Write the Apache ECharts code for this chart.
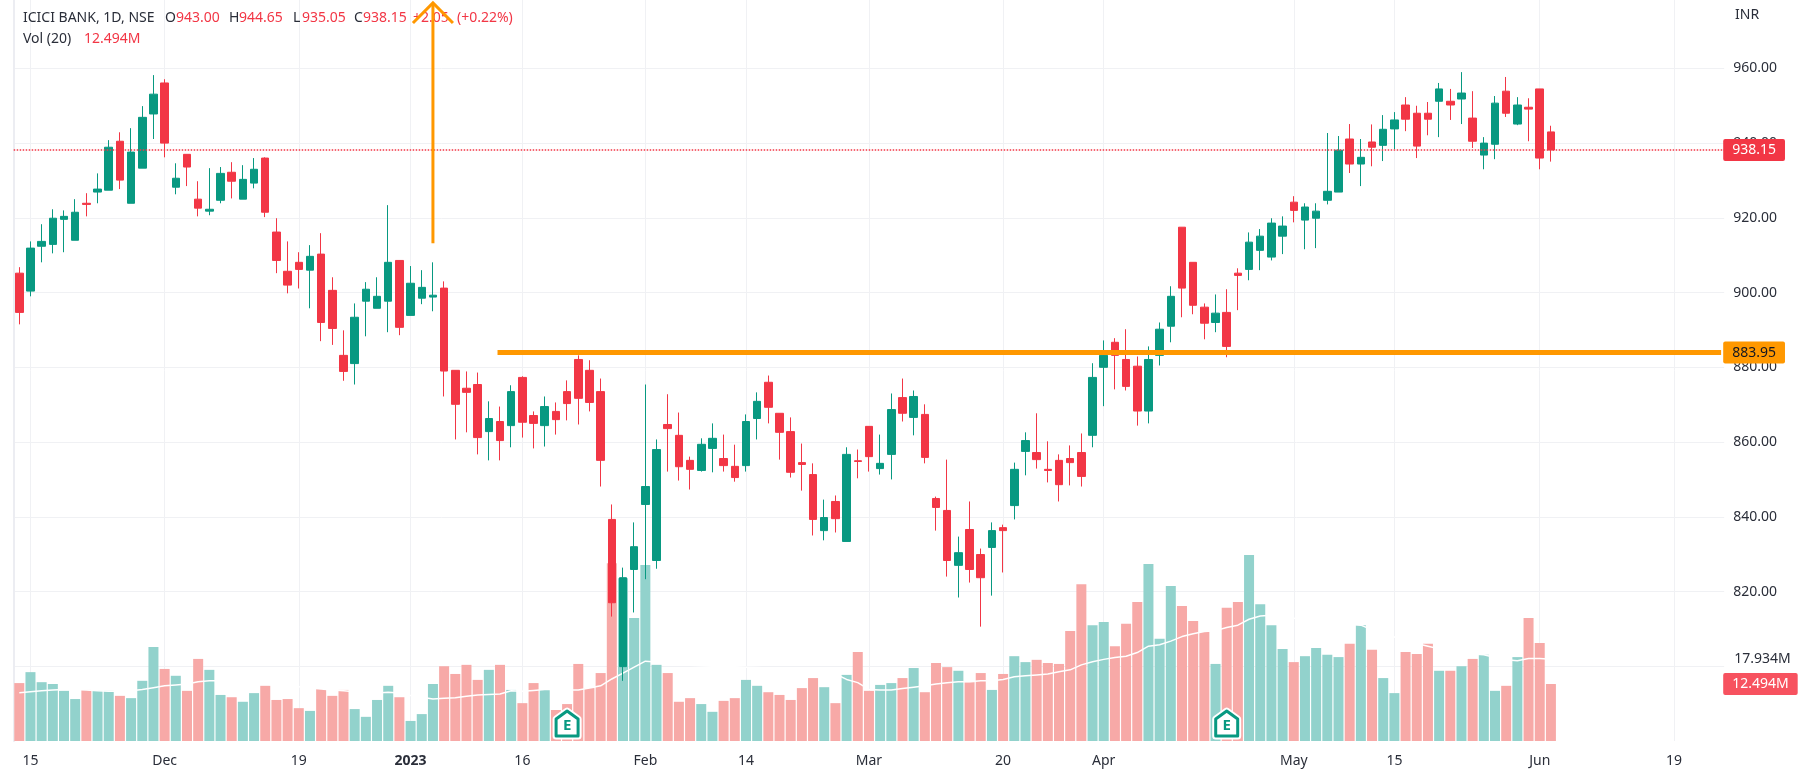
<!DOCTYPE html>
<html>
<head>
<meta charset="utf-8">
<title>ICICI BANK</title>
<script src="https://cdn.jsdelivr.net/npm/echarts@6/dist/echarts.min.js"></script>
<style>
  html, body { margin: 0; padding: 0; background: #fff; }
  #main { width: 1808px; height: 779px; }
</style>
</head>
<body>
<div id="main"></div>
<script>
// daily candles
var opens = [905.2,900.4,912.4,912.9,919.6,914.0,923.9,926.9,927.4,940.5,923.9,933.3,947.8,956.1,928.2,937.0,925.0,921.8,924.7,932.2,925.0,929.3,936.0,916.2,905.7,908.1,906.0,910.3,900.6,883.2,881.0,897.7,895.8,897.7,908.6,893.9,898.5,898.8,901.2,879.2,874.4,875.4,862.8,865.5,864.4,877.3,867.1,864.4,868.2,873.5,882.1,879.2,873.5,839.3,799.9,825.9,843.3,828.3,864.7,861.8,855.1,852.4,858.3,855.6,853.5,853.7,866.3,876.0,867.7,862.8,854.5,851.3,836.3,844.1,833.4,855.0,864.2,852.9,856.7,871.9,866.6,867.4,844.9,841.7,827.0,836.6,829.9,831.8,837.1,843.0,857.5,857.2,852.7,855.1,855.6,857.2,861.8,880.0,886.7,882.1,880.3,868.3,883.2,891.0,917.5,908.1,896.1,892.0,894.7,905.2,906.2,911.3,909.5,915.1,924.2,919.4,919.9,924.7,926.9,941.1,934.4,940.3,939.4,943.8,950.2,948.0,948.0,951.2,951.2,951.8,946.7,936.8,939.7,953.9,945.1,949.6,954.5,943.0];
var highs = [906.8,913.7,918.3,922.3,922.0,925.0,926.6,931.9,940.8,942.9,944.0,949.9,958.2,957.1,934.6,937.0,929.8,933.3,933.6,934.9,934.1,936.0,936.2,919.9,913.7,910.8,912.7,915.9,904.1,889.9,897.1,902.8,904.1,923.4,908.6,907.1,906.0,908.1,903.0,879.2,878.9,878.6,870.9,869.5,875.2,877.6,868.2,872.2,870.6,876.5,883.2,881.9,877.0,843.3,826.4,838.5,875.4,860.7,872.8,867.9,856.1,861.0,865.0,862.0,859.3,867.4,873.3,877.8,867.7,866.6,859.6,854.3,844.6,845.7,858.6,858.0,864.2,862.0,873.0,877.0,873.8,870.1,845.4,855.3,834.7,844.1,831.5,838.5,837.9,854.5,862.6,867.7,860.2,856.7,859.1,862.3,881.1,887.2,887.8,890.2,882.9,885.6,892.0,901.7,917.5,908.1,897.1,899.5,900.9,906.5,916.1,917.0,919.9,920.4,925.8,923.9,923.9,942.7,941.9,945.1,941.1,945.0,947.5,948.3,952.3,950.0,951.0,956.1,954.5,959.0,953.9,941.6,952.6,957.7,952.3,952.0,954.5,944.65];
var lows = [891.5,899.0,908.1,910.5,910.8,914.0,920.4,923.9,927.4,927.7,923.9,933.3,941.1,936.2,926.3,928.5,920.4,920.7,923.9,925.2,925.0,927.9,920.2,905.2,899.8,901.1,895.8,887.0,886.0,876.4,875.4,888.3,895.8,889.4,888.6,893.9,896.9,895.0,872.2,860.7,862.6,856.7,855.1,855.1,858.6,861.2,858.3,858.8,862.0,865.8,864.7,868.2,848.1,813.3,796.1,814.4,823.3,826.1,852.1,849.7,847.3,852.1,851.9,852.1,849.4,852.1,860.7,865.0,855.3,850.5,847.0,835.0,833.7,835.8,833.4,850.3,852.1,851.3,850.0,865.5,861.8,854.3,836.3,824.0,818.4,822.4,810.6,818.9,825.1,839.3,851.1,852.9,849.2,844.1,848.4,848.1,858.6,869.6,874.1,873.8,864.4,865.0,880.5,886.7,893.4,894.2,887.5,889.4,882.7,895.3,903.3,906.0,908.6,910.3,918.8,911.6,911.9,923.6,926.9,932.0,928.5,933.8,935.2,938.4,943.2,936.0,942.1,941.6,946.2,945.1,938.7,933.0,935.7,947.0,944.8,940.5,933.0,935.05];
var closes = [894.7,911.9,913.7,919.9,920.4,921.5,923.6,927.7,938.9,930.1,937.6,946.9,953.1,940.0,930.6,933.6,922.6,922.3,931.9,929.8,930.3,933.0,921.5,908.6,902.0,906.2,909.7,892.0,890.4,878.9,893.4,900.9,899.0,908.1,890.7,902.5,901.4,899.3,879.0,870.1,873.3,861.2,866.3,860.4,873.5,865.3,865.0,869.5,866.0,870.3,871.7,870.6,855.1,817.0,823.7,832.0,848.1,858.0,863.6,853.4,852.7,859.4,861.0,853.7,850.5,865.5,870.9,869.3,862.6,851.9,854.0,839.3,839.8,839.5,856.7,854.8,856.1,854.3,868.7,867.7,872.2,855.9,842.5,828.3,830.4,825.9,823.7,836.3,836.3,852.7,860.4,855.3,852.4,848.6,854.5,850.8,877.3,883.2,883.2,874.9,868.3,882.1,890.2,899.0,901.2,896.6,891.8,894.5,885.6,904.6,913.5,915.1,918.6,917.8,922.0,922.9,921.8,927.1,938.1,934.4,936.2,938.9,943.7,946.2,946.4,939.2,946.4,954.5,950.2,953.4,940.5,940.0,950.7,948.0,950.2,949.1,936.0,938.15];

// volume in millions and its 20 day average
var volumes = [12.7,15.1,12.9,12.5,11.0,9.2,11.2,11.0,11.0,9.9,9.4,13.2,20.6,15.8,14.3,11.0,18.0,15.6,10.1,9.6,8.6,10.5,12.1,9.0,9.2,7.2,6.6,11.4,9.9,11.2,7.0,5.3,9.0,12.1,9.6,4.4,5.9,12.5,16.4,14.7,16.7,13.4,15.6,16.7,11.2,8.3,12.7,11.2,6.8,8.1,16.9,11.6,14.9,39.0,35.7,27.0,38.6,16.7,14.9,8.6,9.4,8.1,6.4,8.8,9.4,13.4,12.1,10.7,10.1,9.0,11.6,13.8,11.8,8.3,14.5,19.5,11.0,12.3,12.7,13.8,16.0,10.7,17.1,16.2,15.4,12.9,14.9,11.2,14.7,18.6,17.3,17.8,17.1,16.9,24.1,34.4,25.4,26.1,20.8,25.7,30.5,38.8,22.4,34.0,29.6,26.3,23.9,16.9,29.2,30.5,40.8,30.0,25.4,20.2,17.3,18.6,20.4,18.9,18.4,21.3,25.4,20.0,13.8,10.5,19.5,19.1,21.3,15.4,15.4,16.4,18.0,18.9,11.0,12.1,18.4,27.0,21.5,12.494];
var volumeAvg = [10.6,10.8,11.0,11.2,11.3,11.3,11.2,11.0,10.9,10.9,11.0,11.3,11.7,12.1,12.3,12.5,13.0,13.2,13.2,13.1,12.9,12.7,12.5,12.3,12.1,11.9,11.6,11.4,11.2,11.0,10.8,10.6,10.5,10.7,10.5,10.0,9.6,9.2,9.4,9.5,9.8,10.1,10.2,10.3,11.0,10.9,11.1,11.3,11.3,11.2,11.2,11.6,12.1,13.6,14.9,16.2,17.5,17.3,17.0,16.7,16.6,16.5,16.4,16.4,16.3,16.2,16.1,16.0,15.9,15.8,15.6,15.4,15.0,14.7,13.5,12.8,11.3,11.2,11.2,11.5,11.8,12.1,12.5,12.8,13.0,13.0,13.2,13.2,13.5,14.1,14.3,14.5,14.7,15.2,15.6,16.7,17.4,17.9,18.3,18.6,19.4,20.8,21.1,21.9,22.9,23.5,24.0,24.2,24.9,25.4,26.7,27.4,27.6,27.2,26.9,26.6,26.3,26.0,25.8,25.6,25.4,24.4,23.6,22.8,22.0,21.4,20.8,20.2,19.8,19.4,19.1,18.9,18.3,17.8,17.6,18.1,18.1,17.934];

// bar slots on the time axis, the tail is empty space after the last session
var slotCount = 153;
var tickSlots = [1,13,25,35,45,56,65,76,88,97,114,123,136,148];
var tickLabels = ['15','Dec','19','2023','16','Feb','14','Mar','20','Apr','May','15','Jun','19'];
var earningsSlots = [49,108];

var upColor = '#089981', downColor = '#F23645', orange = '#FF9800';
var gridColor = '#f0f1f4', textColor = '#2a2e39';
var fontFamily = '"Noto Sans", sans-serif';

var categories = [];
for (var i = 0; i < slotCount; i++) categories.push('');
tickSlots.forEach(function (slot, k) { categories[slot] = tickLabels[k]; });

var candles = opens.map(function (o, k) { return [o, closes[k], lows[k], highs[k]]; });
var volumeBars = volumes.map(function (v, k) {
  return { value: v, itemStyle: { color: closes[k] >= opens[k] ? '#92d2cc' : '#f7a9a7' } };
});
var isTick = function (index) { return categories[index] !== ''; };

// legend text along the top left
var headerRows = [
  [23, 18, 'ICICI BANK, 1D, NSE', textColor], [165, 18, 'O', textColor], [176, 18, '943.00', downColor],
  [229, 18, 'H', textColor], [239, 18, '944.65', downColor], [293, 18, 'L', textColor], [302, 18, '935.05', downColor],
  [354, 18, 'C', textColor], [363, 18, '938.15', downColor], [413, 18, '+2.05', downColor], [457, 18, '(+0.22%)', downColor],
  [23, 39, 'Vol (20)', textColor], [84, 39, '12.494M', downColor],
  [1735, 15, 'INR', textColor]
];

// price tag at the right end of a level
function endTag(text, fill, ink) {
  return { show: true, position: 'end', distance: -1, formatter: text, color: ink, backgroundColor: fill,
    padding: [5, 9, 3, 9], borderRadius: 2, fontSize: 14, fontFamily: fontFamily };
}

var myChart = echarts.init(document.getElementById('main'), null, { renderer: 'canvas' });
var option = {
  animation: false,
  backgroundColor: '#fff',
  graphic: headerRows.map(function (r) {
    return { type: 'text', x: r[0], y: r[1], z: 5, silent: true,
      style: { text: r[2], fill: r[3], font: '14px ' + fontFamily, verticalAlign: 'middle' } };
  }),
  grid: { left: 13.7, top: 0, width: 1710.5, height: 741 },
  xAxis: {
    type: 'category',
    data: categories,
    boundaryGap: true,
    axisLine: { show: false },
    axisTick: { show: false },
    axisLabel: {
      interval: isTick, margin: 13, color: textColor, fontSize: 14, fontFamily: fontFamily,
      formatter: function (v) { return v === '2023' ? '{b|2023}' : v; },
      rich: { b: { fontWeight: 'bold', fontSize: 14, color: textColor, fontFamily: fontFamily } }
    },
    splitLine: { show: true, interval: isTick, alignWithLabel: true, lineStyle: { color: gridColor, width: 1 } }
  },
  yAxis: [
    {
      type: 'value', position: 'right', min: 780, max: 978.3, interval: 20,
      axisLine: { show: false }, axisTick: { show: false },
      axisLabel: {
        margin: 9, color: textColor, fontSize: 14, fontFamily: fontFamily, showMaxLabel: false, padding: [3, 0, 0, 0],
        formatter: function (v) { return v >= 820 && v <= 960 ? v.toFixed(2) : ''; }
      },
      splitLine: { show: true, showMaxLine: false, showMinLine: false, lineStyle: { color: gridColor, width: 1 } }
    },
    {
      type: 'value', position: 'left', min: 0, max: 162.5,
      axisLine: { show: true, lineStyle: { color: '#ecedf2', width: 2 } },
      axisTick: { show: false }, axisLabel: { show: false }, splitLine: { show: false }
    }
  ],
  series: [
    {
      name: 'Volume', type: 'bar', yAxisIndex: 1, data: volumeBars, barWidth: 10, z: 1,
      markLine: {
        silent: true, symbol: 'none', animation: false,
        data: [{ yAxis: 12.494, lineStyle: { color: 'transparent' }, label: endTag('12.494M', '#f7525f', '#fff') }]
      }
    },
    {
      name: 'Vol (20)', type: 'line', yAxisIndex: 1, data: volumeAvg, showSymbol: false, z: 2,
      lineStyle: { color: '#fff', width: 1.5 },
      markLine: {
        silent: true, symbol: 'none', animation: false,
        data: [{
          yAxis: 17.934, lineStyle: { color: 'transparent' },
          label: { show: true, position: 'end', distance: 10, formatter: '17.934M', color: textColor,
            fontSize: 14, fontFamily: fontFamily }
        }]
      }
    },
    {
      name: 'ICICI BANK', type: 'candlestick', data: candles, barWidth: 8, z: 3,
      itemStyle: { color: upColor, color0: downColor, borderColor: upColor, borderColor0: downColor, borderWidth: 1 },
      markLine: {
        silent: true, symbol: 'none', animation: false, z: 6,
        data: [
          { yAxis: 938.15, lineStyle: { color: downColor, type: [1.5, 1.5], width: 1.5, opacity: 1 }, label: endTag('938.15', downColor, '#fff') },
          { yAxis: 883.95, lineStyle: { color: 'transparent' }, label: endTag('883.95', orange, '#131722') },
          [
            { coord: [43, 883.95], lineStyle: { color: orange, width: 5, type: 'solid', cap: 'square', opacity: 1 }, label: { show: false } },
            { coord: [152, 883.95] }
          ]
        ]
      }
    },
    {
      // earnings flags sit on the volume baseline
      name: 'Earnings', type: 'custom', yAxisIndex: 1, z: 4, silent: true,
      data: earningsSlots.map(function (s) { return [s, 0]; }),
      renderItem: function (params, api) {
        var p = api.coord([api.value(0), 0]);
        var x = p[0], y = p[1];
        var house = [[x - 11, y - 5], [x - 11, y - 22], [x, y - 30], [x + 11, y - 22], [x + 11, y - 5]];
        return {
          type: 'group',
          children: [
            { type: 'polygon', shape: { points: house }, style: { fill: '#fff', stroke: '#fff', lineWidth: 7, lineJoin: 'round' } },
            { type: 'polygon', shape: { points: house }, style: { fill: '#fff', stroke: upColor, lineWidth: 3, lineJoin: 'round' } },
            { type: 'text', style: { text: 'E', x: x, y: y - 15, fill: upColor, font: 'bold 15px ' + fontFamily, align: 'center', verticalAlign: 'middle' } }
          ]
        };
      }
    },
    {
      // hand drawn arrow from the original chart
      name: 'Arrow', type: 'custom', z: 7, silent: true, clip: false,
      data: [[37, 913.2, 977.5]],
      renderItem: function (params, api) {
        var a = api.coord([api.value(0), api.value(1)]);
        var b = api.coord([api.value(0), api.value(2)]);
        var style = { stroke: orange, lineWidth: 3, fill: null };
        return {
          type: 'group',
          children: [
            { type: 'polyline', shape: { points: [a, b] }, style: style },
            { type: 'polyline', shape: { points: [[b[0] - 20, b[1] + 20], b, [b[0] + 20, b[1] + 20]] }, style: style }
          ]
        };
      }
    }
  ]
};
myChart.setOption(option);
</script>
</body>
</html>
